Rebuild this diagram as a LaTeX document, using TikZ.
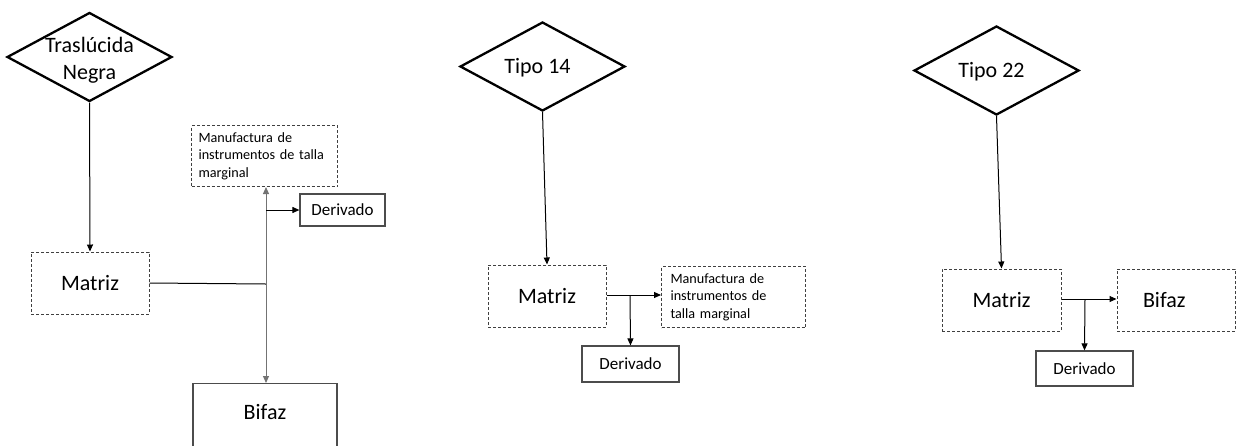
\documentclass[tikz,border=0pt]{standalone}
\usepackage{fontspec}
\setmainfont{Carlito}
\usepackage{tikz}
\usetikzlibrary{shapes.geometric, arrows.meta}

% text inside a diamond takes no room: #1 shifts it sideways, #2 up or down
\newcommand{\dtext}[3]{\smash{\makebox[0pt]{\hspace*{#1}\raisebox{#2}{\begin{tabular}{@{}c@{}}#3\end{tabular}}}}}

\tikzset{
    decision/.style={draw, line width=2.3pt, shape=diamond, inner sep=0pt,
        minimum width=165pt, minimum height=89pt,
        font=\fontsize{22}{27}\selectfont},
    dashbox/.style={draw=black!75, line width=1pt, dash pattern=on 3pt off 2pt,
        inner sep=0pt},
    solidbox/.style={draw=black!70, line width=1.2pt, inner sep=0pt},
    bigtext/.style={font=\fontsize{22}{26}\selectfont},
    midtext/.style={font=\fontsize{17}{20}\selectfont},
    smalltext/.style={font=\fontsize{14.2}{17.5}\selectfont, align=left},
    arr/.style={-{Triangle[length=7pt, width=6pt]}, line width=1pt},
}

\begin{document}
\begin{tikzpicture}[x=1pt, y=-1pt]
    \useasboundingbox (0,0) rectangle (1236,445);
    \clip (0,0) rectangle (1236,445);

    % First group: Traslucida Negra
    \node[decision] (d1) at (89.5,57) {\dtext{0pt}{-8.5pt}{Traslúcida\\Negra}};
    \node[dashbox, bigtext, minimum width=118pt, minimum height=62pt] (m1) at (90,283) {Matriz};
    \node[dashbox, smalltext, text width=132pt, minimum height=61pt, inner xsep=7pt, anchor=north west]
        (u1) at (191,125) {Manufactura de\\instrumentos de talla\\marginal};
    \node[solidbox, midtext, minimum width=85pt, minimum height=32pt] (v1) at (342.5,210) {Derivado};
    \node[solidbox, bigtext, minimum width=144pt, text height=36pt, text depth=40pt, anchor=north]
        (b1) at (265,383) {Bifaz};
    \coordinate (j1) at (266,284);

    \draw[arr] (d1.south) -- (m1.north);
    \draw[line width=1pt] (m1.east) -- (j1);
    \draw[arr, {Triangle[length=7pt, width=6pt]}-{Triangle[length=7pt, width=6pt]}, draw=black!55]
        (j1 |- u1.south) -- (j1 |- b1.north);
    \draw[arr] (j1 |- v1.west) -- (v1.west);

    % Second group: Tipo 14
    \node[decision] (d2) at (542.5,66.5) {\dtext{-10pt}{-6.5pt}{Tipo 14}};
    \node[dashbox, bigtext, minimum width=118pt, minimum height=62pt] (m2) at (547,296) {Matriz};
    \node[dashbox, smalltext, text width=126pt, minimum height=61pt, inner xsep=9pt, anchor=north west]
        (u2) at (661,266) {Manufactura de\\instrumentos de\\talla marginal};
    \node[solidbox, midtext, minimum width=97pt, minimum height=36pt] (v2) at (630.5,364) {Derivado};
    \coordinate (j2) at (630,295);

    \draw[arr] (d2.south) -- (m2.north);
    \draw[arr] (m2.east |- j2) -- (u2.west |- j2);
    \draw[arr] (j2) -- (v2.north);

    % Third group: Tipo 22
    \node[decision] (d3) at (996.5,70.5) {\dtext{-10pt}{-7pt}{Tipo 22}};
    \node[dashbox, bigtext, minimum width=119pt, minimum height=62pt] (m3) at (1001.5,300) {Matriz};
    \node[dashbox, bigtext, text width=66pt, inner xsep=26pt, minimum height=62pt] (b3) at (1176,300) {Bifaz};
    \node[solidbox, midtext, minimum width=97pt, minimum height=35pt] (v3) at (1084.5,368.5) {Derivado};
    \coordinate (j3) at (1085,299);

    \draw[arr] (d3.south) -- (m3.north);
    \draw[arr] (m3.east |- j3) -- (b3.west |- j3);
    \draw[arr] (j3) -- (v3.north);
\end{tikzpicture}
\end{document}
